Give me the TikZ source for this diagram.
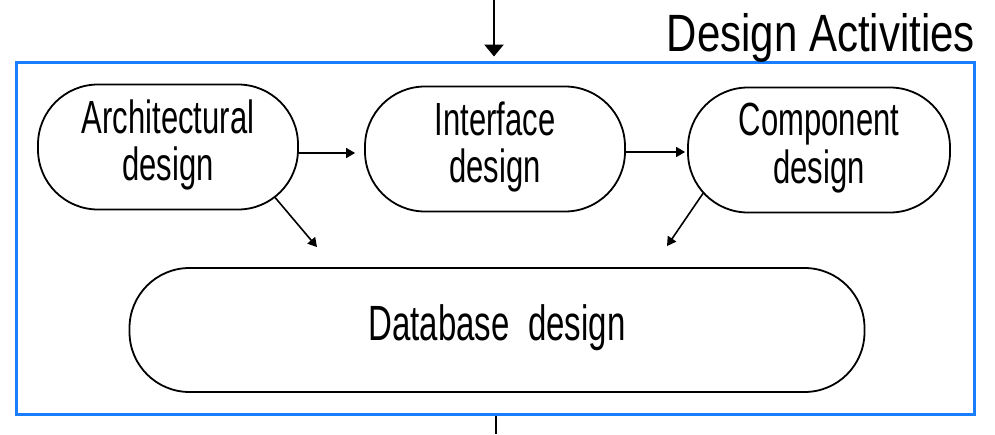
\documentclass[tikz,border=0pt]{standalone}
\usepackage{fontspec}
\setmainfont{Liberation Sans}
\usetikzlibrary{arrows.meta,calc}
\definecolor{frameblue}{RGB}{25,125,255}
\newcommand{\hwtext}[2][1.5]{\scalebox{1}[#1]{\begin{tabular}{@{}c@{}}#2\end{tabular}}}
\begin{document}
\begin{tikzpicture}[x=1pt,y=-1pt,
  stadium/.style={draw, line width=1.8pt, rounded corners=60pt, minimum height=125pt, inner sep=0pt,
    font=\fontsize{31}{31}\selectfont},
  arr/.style={line width=1.6pt, -{Triangle[width=10pt,length=9pt]}},
  bigarr/.style={line width=2.8pt, -{Triangle[width=19pt,length=12pt]}},
  frame/.style={draw=frameblue, line width=3pt, minimum width=958pt, minimum height=352pt, inner sep=0pt}]
\useasboundingbox (0,0) rectangle (995,434);
\node[frame] (frame) at (495,238) {};
\node[anchor=base east, inner sep=0pt, font=\fontsize{42}{42}\selectfont] (title) at (975,51) {\scalebox{1}[1.25]{Design Activities}};
\node[stadium, minimum width=260pt] (arch) at (168,147) {\hwtext{Architectural\\design}};
\node[stadium, minimum width=260pt] (iface) at (495,149) {\hwtext{Interface\\design}};
\node[stadium, minimum width=262pt] (comp) at (819,150) {\hwtext{Component\\design}};
\node[stadium, minimum width=735pt, minimum height=124pt, font=\fontsize{33}{33}\selectfont] (db) at (497,330) {\hwtext{Database\ \ design}};
\coordinate (topin) at (494,0);
\coordinate (botout) at (496,434);
\coordinate (rowa) at (0,153);
\coordinate (rowb) at (0,152);
\draw[bigarr, shorten >=4pt] (topin) -- (frame.north -| topin);
\draw[line width=2pt] (frame.south -| botout) -- (botout);
\draw[arr] (arch.east |- rowa) -- ([xshift=-9pt]iface.west |- rowa);
\draw[arr] (iface.east |- rowb) -- ([xshift=-2pt]comp.west |- rowb);
\draw[arr] ([xshift=107pt,yshift=13pt]arch.south) -- ([xshift=-180pt,yshift=20pt]db.north);
\draw[arr] ([xshift=-116pt,yshift=20pt]comp.south) -- ([xshift=170pt,yshift=21pt]db.north);
\end{tikzpicture}
\end{document}
